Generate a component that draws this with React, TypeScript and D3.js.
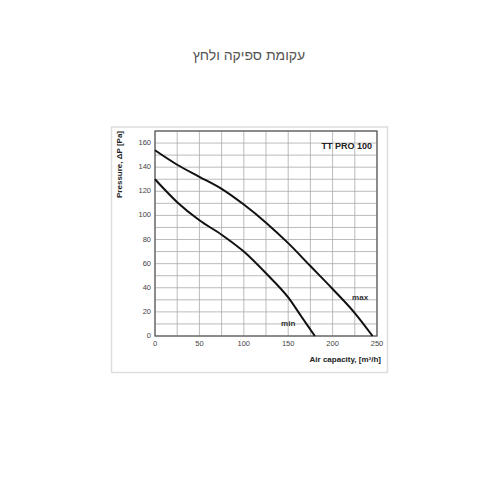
import * as d3 from 'd3';

// ── Data ──────────────────────────────────────────────────────────────────────
const MAX_X = [0, 25, 50, 75, 100, 125, 150, 175, 200, 225, 245];
const MAX_P = [154, 142, 132, 122, 109, 94, 77, 58, 39, 19, 0];
const MIN_X = [0, 25, 50, 75, 100, 125, 150, 165, 180];
const MIN_P = [130, 111, 96, 84, 70, 52, 32, 16, 0];

const X_TICKS = [0, 50, 100, 150, 200, 250];
const Y_TICKS = [0, 20, 40, 60, 80, 100, 120, 140, 160];
const X_GRID = d3.range(0, 251, 25);
const Y_GRID = d3.range(0, 171, 10);

const TITLE = 'עקומת ספיקה ולחץ';
const MODEL = 'TT PRO 100';

// ── Layout ────────────────────────────────────────────────────────────────────
const W = 500;
const H = 500;
const PL = 155, PR = 377, PT = 131, PB = 336;

const FONT = 'Arial, "Liberation Sans", Helvetica, sans-serif';

export default function App() {
  const x = d3.scaleLinear().domain([0, 250]).range([PL, PR]);
  const y = d3.scaleLinear().domain([0, 170]).range([PB, PT]);

  const line = d3.line<[number, number]>()
    .x(d => x(d[0]))
    .y(d => y(d[1]))
    .curve(d3.curveMonotoneX);

  const maxPts = MAX_X.map((v, i) => [v, MAX_P[i]] as [number, number]);
  const minPts = MIN_X.map((v, i) => [v, MIN_P[i]] as [number, number]);

  return (
    <svg
      width={W}
      height={H}
      viewBox={`0 0 ${W} ${H}`}
      style={{ position: 'absolute', left: 0, top: 0, background: '#fff' }}
    >
      {/* Page title */}
      <text
        x={249} y={60}
        textAnchor="middle"
        fontSize={14} fill="#555"
        fontFamily={FONT}
        direction="rtl"
      >
        {TITLE}
      </text>

      {/* Image frame */}
      <rect x={111.5} y={127} width={276} height={245.5} fill="#fff" stroke="#ddd" strokeWidth={1.5} />

      {/* Grid */}
      {X_GRID.map(v => (
        <line key={`gx${v}`} x1={x(v)} x2={x(v)} y1={PT} y2={PB} stroke="#aaa" strokeWidth={0.8} />
      ))}
      {Y_GRID.map(v => (
        <line key={`gy${v}`} x1={PL} x2={PR} y1={y(v)} y2={y(v)} stroke="#aaa" strokeWidth={0.8} />
      ))}
      <rect x={PL} y={PT} width={PR - PL} height={PB - PT} fill="none" stroke="#555" strokeWidth={1.2} />

      {/* Tick labels */}
      {Y_TICKS.map(v => (
        <text
          key={`ty${v}`}
          x={PL - 4} y={y(v)}
          textAnchor="end" dominantBaseline="middle"
          fontSize={7.5} fill="#444" fontFamily={FONT}
        >
          {v}
        </text>
      ))}
      {X_TICKS.map(v => (
        <text
          key={`tx${v}`}
          x={x(v)} y={PB + 10}
          textAnchor="middle"
          fontSize={7.5} fill="#444" fontFamily={FONT}
        >
          {v}
        </text>
      ))}

      {/* Curves */}
      <path d={line(maxPts) ?? ''} fill="none" stroke="#111" strokeWidth={2} />
      <path d={line(minPts) ?? ''} fill="none" stroke="#111" strokeWidth={2} />

      {/* Labels */}
      <text x={372} y={149} textAnchor="end" fontSize={9} fontWeight={700} fill="#222" fontFamily={FONT}>
        {MODEL}
      </text>
      <text x={x(231)} y={y(32)} textAnchor="middle" dominantBaseline="middle" fontSize={8} fontWeight={700} fill="#333" fontFamily={FONT}>
        max
      </text>
      <text x={x(150)} y={y(10)} textAnchor="middle" dominantBaseline="middle" fontSize={8} fontWeight={700} fill="#333" fontFamily={FONT}>
        min
      </text>

      {/* Axis titles */}
      <text x={381} y={362} textAnchor="end" fontSize={8} fontWeight={700} fill="#222" fontFamily={FONT}>
        Air capacity, [m³/h]
      </text>
      <text
        transform={`translate(122, ${PT}) rotate(-90)`}
        textAnchor="end"
        fontSize={8} fontWeight={700} fill="#222" fontFamily={FONT}
      >
        Pressure, ΔP [Pa]
      </text>
    </svg>
  );
}
